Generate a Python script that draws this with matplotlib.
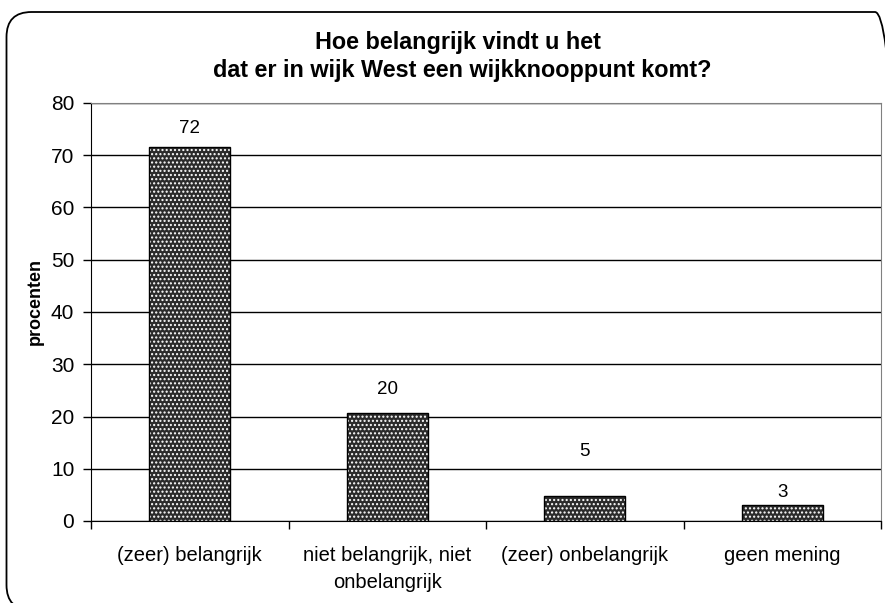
import matplotlib
matplotlib.use("Agg")
import matplotlib.pyplot as plt
from matplotlib.patches import FancyBboxPatch

plt.rcParams['font.family'] = ['Liberation Sans', 'DejaVu Sans']

categories = ["(zeer) belangrijk", "niet belangrijk, niet\nonbelangrijk",
              "(zeer) onbelangrijk", "geen mening"]
values = [71.6, 20.6, 4.8, 3.0]
value_labels = ["72", "20", "5", "3"]
yticks = [0, 10, 20, 30, 40, 50, 60, 70, 80]
title_lines = ["Hoe belangrijk vindt u het", "dat er in wijk West een wijkknooppunt komt?"]

# label offsets above bar top (points), excel put them a bit unevenly
label_offsets = [13, 17, 32, 9]

fig = plt.figure(figsize=(8.85, 6.03), dpi=100)
ax = fig.add_axes([91 / 885, 1 - 521 / 603, (881 - 91) / 885, (521 - 103) / 603])

x = list(range(len(categories)))
# dotted fill: white hatch on dark face, then black outline on top
ax.bar(x, values, width=0.41, color="#2b2b2b", edgecolor="white",
       hatch="....", linewidth=0, zorder=3)
ax.bar(x, values, width=0.41, fill=False, edgecolor="black", linewidth=1, zorder=4)

for i, (v, lab) in enumerate(zip(values, value_labels)):
    ax.annotate(lab, (i, v), xytext=(0, label_offsets[i]), textcoords="offset points",
                ha="center", va="center", fontsize=13.5)

ax.set_xlim(-0.5, len(categories) - 0.5)
ax.set_ylim(0, 80)
ax.set_yticks(yticks)
ax.set_xticks(x)
ax.set_xticklabels(categories, fontsize=14.5, linespacing=1.55)
ax.set_xticks([i - 0.5 for i in range(len(categories) + 1)], minor=True)
ax.tick_params(axis="x", which="major", length=0, pad=18)
ax.tick_params(axis="x", which="minor", length=6, direction="out", width=1)
ax.tick_params(axis="y", labelsize=15, length=6, direction="out", width=1, pad=6)

ax.set_axisbelow(True)
ax.yaxis.grid(True, color="black", linewidth=1)
ax.spines["top"].set_color("#808080")
ax.spines["right"].set_color("#808080")

ax.set_ylabel("procenten", fontsize=13, fontweight="bold")
ax.yaxis.set_label_coords(44 / 885, 0.5, transform=fig.transFigure)

# title, two centered lines
fig.text(0.518, 1 - 43 / 603, title_lines[0], ha="center", va="center",
         fontsize=16.8, fontweight="bold")
fig.text(0.522, 1 - 70 / 603, title_lines[1], ha="center", va="center",
         fontsize=16.8, fontweight="bold")

# rounded chart border, runs off the right and bottom edge
border = FancyBboxPatch((6.5, -7), 900 - 6.5, 591 + 7, boxstyle="round,pad=0,rounding_size=25",
                        transform=None, fill=False, edgecolor="black", linewidth=1.3)
fig.patches.append(border)

fig.savefig("out.png", dpi=100)
